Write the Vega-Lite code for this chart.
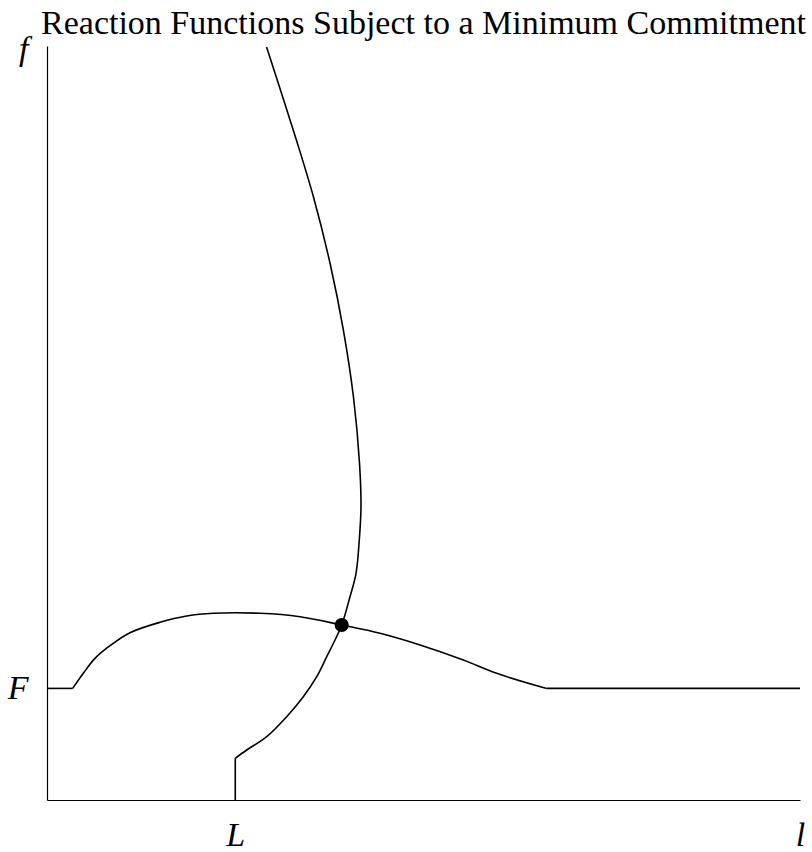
{
  "$schema": "https://vega.github.io/schema/vega-lite/v6.json",
  "width": 753,
  "height": 754,
  "autosize": "none",
  "padding": {"left": 47, "top": 46, "right": 12, "bottom": 52},
  "background": "white",
  "title": {
    "text": "Reaction Functions Subject to a Minimum Commitment",
    "font": "Liberation Serif",
    "fontSize": 34,
    "fontWeight": "normal",
    "color": "black",
    "anchor": "middle",
    "offset": -9
  },
  "config": {
    "view": {"stroke": null},
    "title": {"font": "Liberation Serif"},
    "axis": {
      "grid": false,
      "ticks": false,
      "tickSize": 0,
      "domainColor": "black",
      "domainWidth": 1.2,
      "labelFont": "Liberation Serif",
      "labelFontStyle": "italic",
      "labelFontSize": 34,
      "labelColor": "black",
      "labelFlush": false,
      "labelOverlap": false,
      "title": null
    }
  },
  "datasets": {
    "curves": [
      {"curve": "leader-low", "step": 1, "l": 0, "f": 14.8},
      {"curve": "leader-low", "step": 2, "l": 3.41, "f": 14.8},
      {"curve": "leader", "step": 1, "l": 3.41, "f": 14.8},
      {"curve": "leader", "step": 2, "l": 4.82, "f": 16.8},
      {"curve": "leader", "step": 3, "l": 6.37, "f": 18.79},
      {"curve": "leader", "step": 4, "l": 8.5, "f": 20.56},
      {"curve": "leader", "step": 5, "l": 11.02, "f": 22.19},
      {"curve": "leader", "step": 6, "l": 15.01, "f": 23.57},
      {"curve": "leader", "step": 7, "l": 18.55, "f": 24.4},
      {"curve": "leader", "step": 8, "l": 22.08, "f": 24.76},
      {"curve": "leader", "step": 9, "l": 28.29, "f": 24.76},
      {"curve": "leader", "step": 10, "l": 33.6, "f": 24.31},
      {"curve": "leader", "step": 11, "l": 39.14, "f": 23.21},
      {"curve": "leader", "step": 12, "l": 44.22, "f": 22.11},
      {"curve": "leader", "step": 13, "l": 49.54, "f": 20.56},
      {"curve": "leader", "step": 14, "l": 55.29, "f": 18.57},
      {"curve": "leader", "step": 15, "l": 59.72, "f": 16.8},
      {"curve": "leader", "step": 16, "l": 66.36, "f": 14.8},
      {"curve": "leader-high", "step": 1, "l": 66.36, "f": 14.8},
      {"curve": "leader-high", "step": 2, "l": 100, "f": 14.8},
      {"curve": "follower-low", "step": 1, "l": 25, "f": 0},
      {"curve": "follower-low", "step": 2, "l": 25, "f": 5.53},
      {"curve": "follower", "step": 1, "l": 25, "f": 5.53},
      {"curve": "follower", "step": 2, "l": 26.52, "f": 6.63},
      {"curve": "follower", "step": 3, "l": 29.18, "f": 8.4},
      {"curve": "follower", "step": 4, "l": 31.83, "f": 11.05},
      {"curve": "follower", "step": 5, "l": 34.04, "f": 13.7},
      {"curve": "follower", "step": 6, "l": 35.82, "f": 16.35},
      {"curve": "follower", "step": 7, "l": 37.15, "f": 19.01},
      {"curve": "follower", "step": 8, "l": 38.25, "f": 21.22},
      {"curve": "follower", "step": 9, "l": 39.14, "f": 23.21},
      {"curve": "follower", "step": 10, "l": 40.24, "f": 26.96},
      {"curve": "follower", "step": 11, "l": 41.04, "f": 30.07},
      {"curve": "follower", "step": 12, "l": 41.47, "f": 34.48},
      {"curve": "follower", "step": 13, "l": 41.7, "f": 38.9},
      {"curve": "follower", "step": 14, "l": 41.5, "f": 44.69},
      {"curve": "follower", "step": 15, "l": 40.7, "f": 53.45},
      {"curve": "follower", "step": 16, "l": 39.36, "f": 62.33},
      {"curve": "follower", "step": 17, "l": 37.58, "f": 71.22},
      {"curve": "follower", "step": 18, "l": 35.39, "f": 79.97},
      {"curve": "follower", "step": 19, "l": 33.12, "f": 87.53},
      {"curve": "follower", "step": 20, "l": 29.16, "f": 99.87}
    ],
    "equilibrium": [
      {"l": 39.14, "f": 23.21}
    ]
  },
  "layer": [
    {
      "data": {"name": "curves"},
      "mark": {"type": "line", "color": "black", "strokeWidth": 1.6, "interpolate": "catmull-rom", "clip": false},
      "encoding": {
        "x": {
          "field": "l",
          "type": "quantitative",
          "scale": {"domain": [0, 100], "nice": false, "zero": false},
          "axis": {
            "values": [25, 100],
            "labelExpr": "datum.value < 50 ? 'L' : 'l'",
            "labelPadding": 18,
            "labelBaseline": "top"
          }
        },
        "y": {
          "field": "f",
          "type": "quantitative",
          "scale": {"domain": [0, 100], "nice": false, "zero": false},
          "axis": {
            "values": [14.8, 99.6],
            "labelExpr": "datum.value < 50 ? 'F' : 'f'",
            "labelPadding": 19,
            "labelBaseline": "middle"
          }
        },
        "detail": {"field": "curve"},
        "order": {"field": "step", "type": "quantitative"}
      }
    },
    {
      "data": {"name": "equilibrium"},
      "mark": {"type": "point", "filled": true, "color": "black", "opacity": 1, "size": 200},
      "encoding": {
        "x": {"field": "l", "type": "quantitative"},
        "y": {"field": "f", "type": "quantitative"}
      }
    }
  ]
}
